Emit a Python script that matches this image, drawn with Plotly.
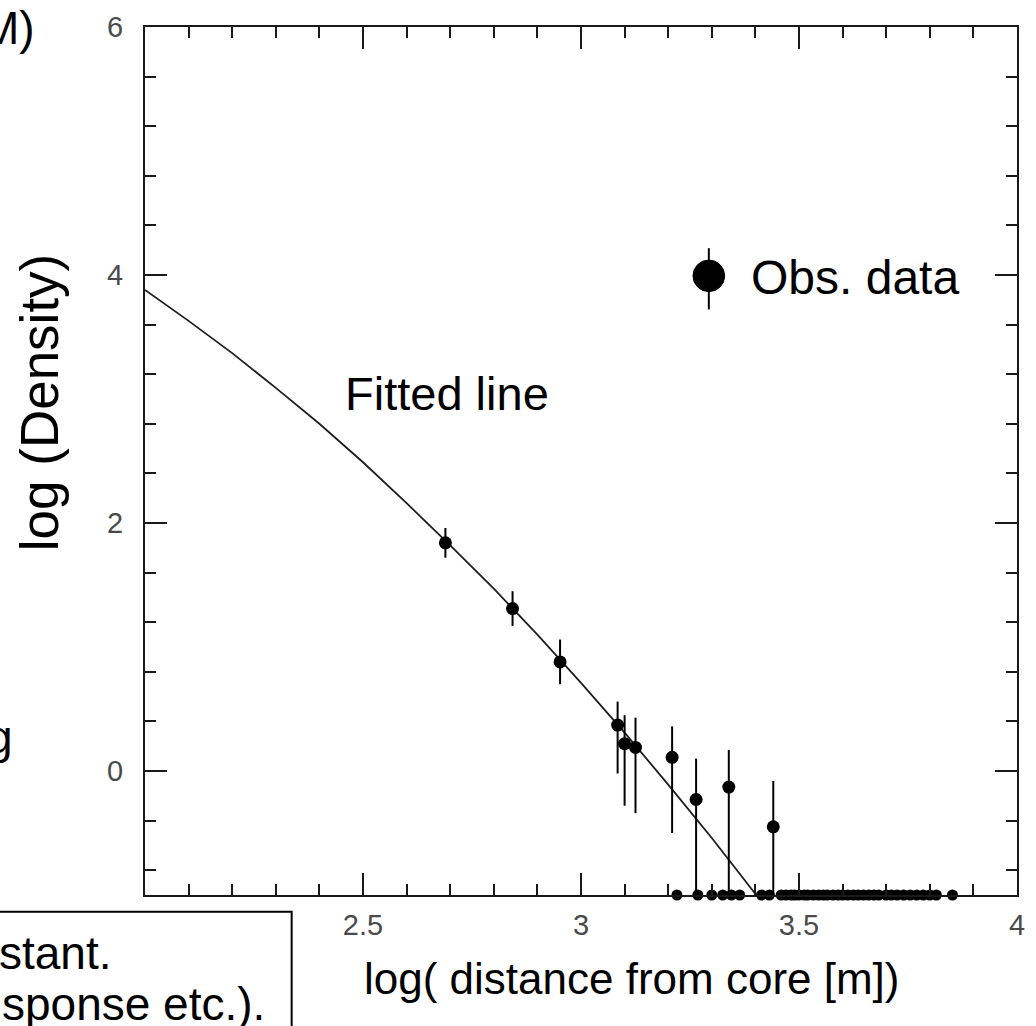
import plotly.graph_objects as go

# Observed lateral densities with (asymmetric) uncertainties in log space
obs_x = [2.689, 2.843, 2.952, 3.084, 3.100, 3.125, 3.209, 3.264, 3.339, 3.441]
obs_y = [1.84, 1.31, 0.88, 0.37, 0.22, 0.19, 0.11, -0.23, -0.13, -0.45]
err_up = [0.12, 0.14, 0.18, 0.19, 0.23, 0.24, 0.25, 0.33, 0.30, 0.37]
err_down = [0.12, 0.14, 0.18, 0.39, 0.50, 0.53, 0.61, 0.77, 0.87, 0.55]

# Detectors with no hit, drawn on the lower frame (log density floor)
zero_x = [3.220, 3.268, 3.300, 3.325, 3.345, 3.364, 3.414, 3.432, 3.459, 3.470,
          3.482, 3.490, 3.500, 3.512, 3.520, 3.533, 3.545, 3.556, 3.565, 3.578,
          3.590, 3.600, 3.612, 3.625, 3.636, 3.648, 3.660, 3.672, 3.683, 3.700,
          3.712, 3.725, 3.740, 3.755, 3.770, 3.785, 3.800, 3.815, 3.852]
zero_floor = -1.0

# Fitted lateral distribution
fit_x = [2.0, 2.1, 2.2, 2.3, 2.4, 2.5, 2.6, 2.7, 2.8, 2.9, 3.0, 3.1, 3.2, 3.3, 3.402]
fit_y = [3.88, 3.63, 3.37, 3.09, 2.80, 2.49, 2.16, 1.82, 1.47, 1.10, 0.71, 0.31, -0.11, -0.54, -1.0]

x_ticks = [2.5, 3, 3.5, 4]
x_tick_text = ["2.5", "3", "3.5", "4"]
y_ticks = [0, 2, 4, 6]
y_tick_text = ["0", "2", "4", "6"]

W, H = 1036, 1026
L, R, T, B = 145, 11, 16, 131
PW, PH = W - L - R, H - T - B


def px(x):
    return (x - L) / PW


def py(y):
    return (H - B - y) / PH


FONT = "Arial, Liberation Sans, sans-serif"
INK = "#1a1a1a"
TICK_FONT = dict(family=FONT, size=29, color="#4a4a4a")

fig = go.Figure()

fig.add_trace(go.Scatter(
    x=fit_x, y=fit_y, mode="lines",
    line=dict(color="#1e1e1e", width=1.8),
    showlegend=False, hoverinfo="skip",
))

fig.add_trace(go.Scatter(
    x=obs_x, y=obs_y, mode="markers",
    marker=dict(color="black", size=13),
    error_y=dict(type="data", symmetric=False, array=err_up, arrayminus=err_down,
                 color="black", thickness=2, width=0),
    showlegend=False,
))

fig.add_trace(go.Scatter(
    x=zero_x, y=[zero_floor] * len(zero_x), mode="markers",
    marker=dict(color="black", size=11),
    cliponaxis=False, showlegend=False,
))

axis_common = dict(
    showgrid=False, zeroline=False, showline=True, linecolor=INK, linewidth=2,
    mirror="allticks", ticks="inside", ticklen=22, tickwidth=2, tickcolor=INK,
)

fig.update_xaxes(
    range=[2, 4], tickmode="array", tickvals=x_ticks, ticktext=x_tick_text,
    tickfont=TICK_FONT, ticklabelstandoff=3,
    minor=dict(dtick=0.1, ticks="inside", ticklen=11, tickwidth=2, tickcolor=INK),
    **axis_common,
)
fig.update_yaxes(
    range=[-1, 6], tickmode="array", tickvals=y_ticks, ticktext=y_tick_text,
    tickfont=TICK_FONT, ticklabelstandoff=14,
    minor=dict(tick0=0, dtick=0.4, ticks="inside", ticklen=11, tickwidth=2, tickcolor=INK),
    **axis_common,
)


def big(size):
    return dict(family=FONT, size=size, color="black")


annotations = [
    dict(text="log (Density)", x=px(38), y=py(396), textangle=-90,
         xanchor="center", yanchor="middle", font=big(53)),
    dict(text="log( distance from core [m])", x=px(636), y=py(980),
         xanchor="center", yanchor="middle", font=big(44)),
    dict(text="Fitted line", x=px(345), y=py(387), xanchor="left", yanchor="middle",
         font=big(47)),
    dict(text="Obs. data", x=px(755), y=py(270), xanchor="left", yanchor="middle",
         font=big(48)),
    dict(text="M)", x=px(36), y=py(17), xanchor="right", yanchor="middle", font=big(46)),
    dict(text="g", x=px(14), y=py(735), xanchor="right", yanchor="middle", font=big(46)),
    dict(text="stant.", x=px(114), y=py(954), xanchor="right", yanchor="middle",
         font=big(46)),
    dict(text="sponse etc.).", x=px(268), y=py(1005), xanchor="right", yanchor="middle",
         font=big(46)),
]
for a in annotations:
    a.update(xref="paper", yref="paper", showarrow=False)

shapes = [
    # note box in the lower left corner
    dict(type="rect", xref="paper", yref="paper", x0=px(-40), x1=px(293),
         y0=py(912), y1=py(1060), line=dict(color="black", width=2),
         fillcolor="white", layer="above"),
    # legend key: marker with error bar
    dict(type="line", xref="paper", yref="paper", x0=px(714), x1=px(714),
         y0=py(240), y1=py(302), line=dict(color="black", width=2)),
    dict(type="circle", xref="paper", yref="paper", x0=px(698), x1=px(730),
         y0=py(252), y1=py(284), line=dict(color="black", width=1),
         fillcolor="black"),
]

fig.update_layout(
    width=W, height=H,
    margin=dict(l=L, r=R, t=T, b=B, pad=0),
    paper_bgcolor="white", plot_bgcolor="white",
    showlegend=False,
    annotations=annotations,
    shapes=shapes,
)

fig.write_html("out.html")
